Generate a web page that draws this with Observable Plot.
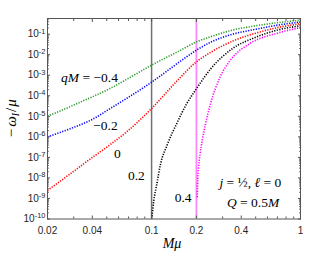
<!DOCTYPE html>
<html><head><meta charset="utf-8">
<script src="https://cdn.jsdelivr.net/npm/d3@7"></script>
<script src="https://cdn.jsdelivr.net/npm/@observablehq/plot@0.6"></script>
<style>body{margin:0;background:#fff;} svg{display:block}</style>
</head><body><div id="chart"></div>
<script>
// Series: charge values qM
const qM = ["−0.4", "−0.2", "0", "0.2", "0.4"];

// qM = -0.4 (green)
const muNeg04 = [0.02, 0.033, 0.053, 0.07, 0.1, 0.15, 0.2, 0.25, 0.35, 0.5, 0.7, 1];
const omNeg04 = [1.0e-5, 4.8e-5, 2.34e-4, 7.1e-4, 3.1e-3, 1.41e-2, 4.2e-2, 7.6e-2, 0.158, 0.257, 0.363, 0.479];
// qM = -0.2 (blue)
const muNeg02 = [0.02, 0.03, 0.04, 0.053, 0.07, 0.1, 0.15, 0.2, 0.25, 0.35, 0.5, 0.7, 1];
const omNeg02 = [1.0e-6, 2.9e-6, 7.1e-6, 2.45e-5, 8.5e-5, 4.6e-4, 3.9e-3, 1.66e-2, 4.1e-2, 0.10, 0.174, 0.275, 0.389];
// qM = 0 (red)
const muZero = [0.02, 0.03, 0.04, 0.053, 0.07, 0.1, 0.15, 0.2, 0.25, 0.35, 0.5, 0.7, 1];
const omZero = [2.45e-9, 2.1e-8, 1.0e-7, 4.3e-7, 2.1e-6, 2.4e-5, 5.8e-4, 4.5e-3, 1.32e-2, 4.6e-2, 0.112, 0.209, 0.324];
// qM = 0.2 (black)
const muPos02 = [0.1003, 0.1035, 0.108, 0.115, 0.127, 0.149, 0.17, 0.2, 0.25, 0.35, 0.5, 0.7, 1];
const omPos02 = [1e-10, 7.9e-10, 4.3e-9, 4.9e-8, 3.9e-7, 5.2e-6, 3.5e-5, 2.2e-4, 2.1e-3, 2.0e-2, 7.1e-2, 0.158, 0.257];
// qM = 0.4 (magenta)
const muPos04 = [0.2025, 0.2041, 0.2066, 0.2115, 0.2188, 0.23, 0.248, 0.29, 0.338, 0.46, 0.7, 1];
const omPos04 = [1.15e-9, 8.7e-9, 3.0e-8, 1.38e-7, 6.8e-7, 4.1e-6, 3.8e-5, 8.9e-4, 5.4e-3, 3.6e-2, 0.112, 0.209];

// thresholds (vertical lines)
const thresholdMu = [0.1, 0.2];

// tick labels
const xTicks = [0.02, 0.04, 0.1, 0.2, 0.4, 1];
const xTickLabels = ["0.02", "0.04", "0.1", "0.2", "0.4", "1"];
const yTicks = [1e-10, 1e-9, 1e-8, 1e-7, 1e-6, 1e-5, 1e-4, 1e-3, 1e-2, 1e-1];

const seriesMu = [muNeg04, muNeg02, muZero, muPos02, muPos04];
const seriesOm = [omNeg04, omNeg02, omZero, omPos02, omPos04];
const rows = qM.flatMap((q, k) => seriesMu[k].map((m, i) => ({q, mu: m, om: seriesOm[k][i]})));

const xMinor = [];
for (const d of [0.01, 0.1]) for (let j = 2; j <= 9; j++) { const v = +(j * d).toFixed(3); if (v > 0.02 && v < 1 && !xTicks.includes(v)) xMinor.push(v); }
const yMinor = [];
for (let e = -10; e <= -1; e++) for (let j = 2; j <= 9; j++) { const v = j * Math.pow(10, e); if (v < 0.58) yMinor.push(v); }

const notes = [
  {x: 0.0383, y: 7.9e-4, t: "qM = −0.4"},
  {x: 0.049, y: 3.6e-6, t: "−0.2"},
  {x: 0.059, y: 1.6e-7, t: "0"},
  {x: 0.079, y: 1.3e-8, t: "0.2"},
  {x: 0.163, y: 1.1e-9, t: "0.4"},
  {x: 0.46, y: 6e-9, t: "j = ½, ℓ = 0"},
  {x: 0.48, y: 6.3e-10, t: "Q = 0.5M"}
];

const axisStroke = "#555";
const tickAxes = [];
for (const anchor of ["bottom", "top"]) {
  tickAxes.push(Plot.axisX(xTicks, {anchor, tickSize: -3, fill: "none", stroke: axisStroke, label: null}));
  tickAxes.push(Plot.axisX(xMinor, {anchor, tickSize: -2, fill: "none", stroke: axisStroke, label: null}));
}
for (const anchor of ["left", "right"]) {
  tickAxes.push(Plot.axisY(yTicks, {anchor, tickSize: -3, fill: "none", stroke: axisStroke, label: null}));
  tickAxes.push(Plot.axisY(yMinor, {anchor, tickSize: -1.8, fill: "none", stroke: axisStroke, label: null}));
}

const serif = "'Liberation Serif', 'DejaVu Serif', serif";

const plot = Plot.plot({
  width: 332, height: 254,
  marginLeft: 47, marginRight: 32, marginTop: 18, marginBottom: 35.5,
  style: {fontFamily: "'Liberation Sans', Arial, sans-serif", fontSize: "10px", color: "#262626", background: "#fff"},
  x: {type: "log", domain: [0.02, 1]},
  y: {type: "log", domain: [1e-10, 0.58]},
  color: {domain: qM, range: ["#2e9a2e", "#0000ff", "#ff0000", "#000000", "#ff00ff"]},
  marks: [
    Plot.ruleX([thresholdMu[0]], {x: d => d, stroke: "#707070", strokeWidth: 1.5}),
    Plot.ruleX([thresholdMu[1]], {x: d => d, stroke: "#ff85ff", strokeWidth: 1.8}),
    Plot.line(rows, {x: "mu", y: "om", z: "q", stroke: "q", strokeWidth: 1.6, strokeDasharray: "1.2,1.4", strokeLinecap: "butt", curve: "monotone-x", clip: true}),
    Plot.frame({stroke: axisStroke}),
    ...tickAxes,
    Plot.text(xTicks, {x: d => d, frameAnchor: "bottom", dy: 11.5, lineAnchor: "middle", textAnchor: "middle", text: (d, i) => xTickLabels[i], fill: "#262626"}),
    Plot.axisY(yTicks, {anchor: "left", tickSize: 0, tickPadding: 2, tickFormat: d => "10^" + Math.round(Math.log10(d)), label: null}),
    Plot.text(notes, {x: "x", y: "y", text: "t", fontFamily: serif, fontSize: 13.5, fill: "#000"}),
    Plot.text(["Mμ"], {frameAnchor: "bottom", dx: -2, dy: 25, lineAnchor: "middle", textAnchor: "middle", text: d => d, fontFamily: serif, fontSize: 14, fontStyle: "italic", fill: "#000"}),
    Plot.text(["−ω_I/μ"], {frameAnchor: "left", y: [9.5e-7], rotate: -90, dx: -36, lineAnchor: "middle", textAnchor: "start", text: d => d, fontFamily: serif, fontSize: 15, fill: "#000"})
  ]
});

const it = s => `<tspan font-style="italic">${s}</tspan>`;
const rich = {
  "qM = −0.4": `${it("qM")} = −0.4`,
  "j = ½, ℓ = 0": `${it("j")} = ½, ${it("ℓ")} = 0`,
  "Q = 0.5M": `${it("Q")} = 0.5${it("M")}`,
  "−ω_I/μ": `−<tspan dx="2" font-style="italic">ω</tspan><tspan font-style="italic" font-size="10px" dy="3">I</tspan><tspan dx="1" dy="-3">/</tspan><tspan dx="1" font-style="italic">μ</tspan>`
};
plot.querySelectorAll("text").forEach(t => {
  const s = t.textContent;
  if (rich[s]) t.innerHTML = rich[s];
  else if (s.startsWith("10^")) t.innerHTML = `10<tspan dy="-0.5em" font-size="7.5px">${s.slice(3)}</tspan>`;
});
document.getElementById("chart").appendChild(plot);
</script>
</body></html>
